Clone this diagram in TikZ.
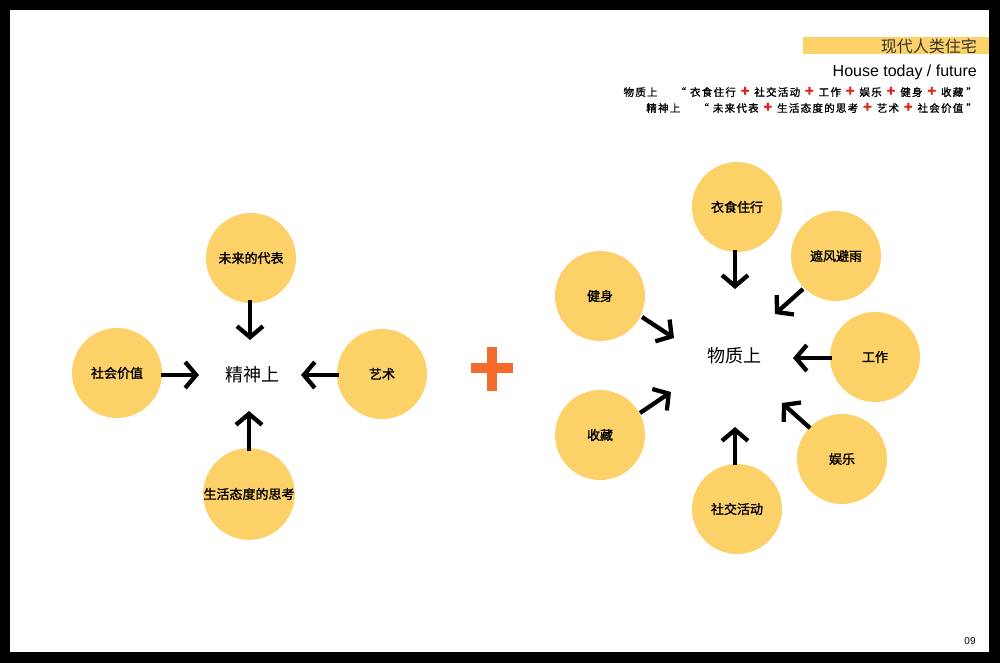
\documentclass[tikz,border=0pt]{standalone}
\usepackage{fontspec}
\setmainfont{Liberation Sans}
\newfontfamily\cjk{Noto Sans CJK SC}
\newfontfamily\cjkb{Noto Sans CJK SC}[FakeBold=1.5]
\newfontfamily\cjksp{Noto Sans CJK SC}[FakeBold=1.2,LetterSpace=12]
\usetikzlibrary{arrows.meta}
\definecolor{bubble}{HTML}{FCD168}
\definecolor{plusor}{HTML}{F26B2A}
\definecolor{plusred}{HTML}{E0201B}
\definecolor{titlegray}{HTML}{333333}
\begin{document}
\begin{tikzpicture}[x=1pt,y=-1pt,
  bub/.style={circle,fill=bubble,minimum size=90pt,inner sep=0pt,font=\cjkb\fontsize{13}{15}\selectfont},
  ctr/.style={font=\cjk\fontsize{18}{20}\selectfont,inner sep=0pt},
  arr/.style={line width=4.3pt,-{Straight Barb[length=11pt,width=26pt]}},
  hdr/.style={anchor=east,inner sep=0pt}]
\fill[black] (0,0) rectangle (1000,663);
\fill[white] (10,10) rectangle (989,652);
% header
\fill[bubble] (803,37) rectangle (989,54);
\node[hdr,font=\cjk\fontsize{16}{18}\selectfont,text=titlegray] (title) at (977,46) {现代人类住宅};
\node[hdr,font=\fontsize{16}{18}\selectfont] (house) at (977,72) {House today / future};
\newcommand{\rp}{\hspace{5pt}{\color{plusred}\bfseries\fontsize{14}{14}\selectfont +}\hspace{5pt}}
\node[hdr,font=\cjksp\fontsize{10.5}{12}\selectfont] (l1) at (977,92) {物质上\hspace{18pt}“\hspace{4pt}衣食住行\rp 社交活动\rp 工作\rp 娱乐\rp 健身\rp 收藏\hspace{3pt}”};
\node[hdr,font=\cjksp\fontsize{10.5}{12}\selectfont] (l2) at (977,108) {精神上\hspace{18pt}“\hspace{4pt}未来代表\rp 生活态度的思考\rp 艺术\rp 社会价值\hspace{3pt}”};
% left group
\node[ctr] (jing) at (252,375) {精神上};
\node[bub] (weilai) at (251,258) {未来的代表};
\node[bub] (shehui) at (117,373) {社会价值};
\node[bub] (yishu) at (382,374) {艺术};
\node[bub] (shenghuo) at (249,494) {生活态度的思考};
\coordinate (a1s) at (250,300); \coordinate (a1e) at (250,340);
\coordinate (a2s) at (161,375); \coordinate (a2e) at (199,375);
\coordinate (a3s) at (339,375); \coordinate (a3e) at (301,375);
\coordinate (a4s) at (249,451); \coordinate (a4e) at (249,411);
\draw[arr] (a1s) -- (a1e);
\draw[arr] (a2s) -- (a2e);
\draw[arr] (a3s) -- (a3e);
\draw[arr] (a4s) -- (a4e);
% plus
\fill[plusor] (471,363) rectangle (513,373);
\fill[plusor] (487,347) rectangle (497,391);
% right group
\node[ctr] (wu) at (734,356) {物质上};
\node[bub] (yishi) at (737,207) {衣食住行};
\node[bub] (zhefeng) at (836,256) {遮风避雨};
\node[bub] (gongzuo) at (875,357) {工作};
\node[bub] (yule) at (842,459) {娱乐};
\node[bub] (shejiao) at (737,509) {社交活动};
\node[bub] (shoucang) at (600,435) {收藏};
\node[bub] (jianshen) at (600,296) {健身};
\coordinate (b1s) at (735,250); \coordinate (b1e) at (735,289);
\coordinate (b2s) at (803,289); \coordinate (b2e) at (775,314);
\coordinate (b3s) at (832,358); \coordinate (b3e) at (793,358);
\coordinate (b4s) at (810,428); \coordinate (b4e) at (782,403);
\coordinate (b5s) at (735,465); \coordinate (b5e) at (735,427);
\coordinate (b6s) at (640,413); \coordinate (b6e) at (671,392);
\coordinate (b7s) at (642,317); \coordinate (b7e) at (674,338);
\draw[arr] (b1s) -- (b1e);
\draw[arr] (b2s) -- (b2e);
\draw[arr] (b3s) -- (b3e);
\draw[arr] (b4s) -- (b4e);
\draw[arr] (b5s) -- (b5e);
\draw[arr] (b6s) -- (b6e);
\draw[arr] (b7s) -- (b7e);
% page number
\node[font=\fontsize{10}{12}\selectfont,inner sep=0pt] (page) at (970,641) {09};
\end{tikzpicture}
\end{document}
